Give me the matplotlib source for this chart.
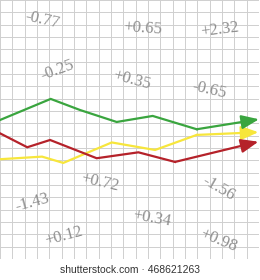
import matplotlib
matplotlib.use("Agg")
import matplotlib.pyplot as plt

# grid units (21 x 21 cells), y measured upward from grid bottom
green_x = [0, 4.11, 6.49, 9.46, 12.38, 15.95, 21.0]
green_y = [11.27, 12.98, 12.08, 11.11, 11.6, 10.52, 11.33]
red_x = [0, 2.21, 4.06, 7.84, 11.22, 14.19, 20.95]
red_y = [10.19, 9.06, 9.65, 8.17, 8.65, 7.87, 9.51]
yellow_x = [0, 3.41, 5.13, 9.06, 12.57, 15.95, 20.95]
yellow_y = [8.09, 8.30, 7.79, 9.45, 8.84, 10.06, 10.28]

labels = ["-0.77", "+0.65", "+2.32", "-0.25", "+0.35", "-0.65",
          "+0.72", "-1.56", "-1.43", "+0.12", "+0.34", "+0.98"]
label_x = [3.41, 11.6, 17.84, 4.62, 10.7, 16.95,
           8.11, 17.68, 2.6, 5.19, 12.33, 17.68]
label_y = [19.38, 18.73, 18.57, 15.33, 14.52, 13.71,
           6.2, 5.72, 4.54, 1.86, 3.32, 1.54]
label_rot = [-13, -4, 7, 20, -15, -13, -13, -30, 15, 15, -10, -22]

fig = plt.figure(figsize=(2.6, 2.8), dpi=100)
ax = fig.add_axes([0, 21 / 280, 259 / 260, 259 / 280])
ax.set_xlim(0, 21)
ax.set_ylim(0, 21)
ax.set_xticks(range(0, 22))
ax.set_yticks(range(0, 22))
ax.grid(True, color="#cfcfcf", linewidth=0.7)
ax.tick_params(length=0, labelbottom=False, labelleft=False)
for s in ax.spines.values():
    s.set_visible(False)
ax.set_axisbelow(True)

for t, x, y, r in zip(labels, label_x, label_y, label_rot):
    ax.text(x, y, t, rotation=r, ha="center", va="center",
            family="Liberation Serif", fontsize=12, color="#8e8e8e",
            rotation_mode="anchor")

series = [(yellow_x, yellow_y, "#f7e63c"),
          (red_x, red_y, "#b5222a"),
          (green_x, green_y, "#3aa53f")]
for xs, ys, c in series:
    ax.plot(xs[:-1], ys[:-1], color=c, lw=1.6, solid_joinstyle="miter")
    ax.annotate("", xy=(xs[-1], ys[-1]), xytext=(xs[-2], ys[-2]),
                arrowprops=dict(arrowstyle="-|>,head_length=1.05,head_width=0.42",
                                color=c, lw=1.6, shrinkA=0, shrinkB=0,
                                mutation_scale=10),
                annotation_clip=False)

fig.text(0.5, 10 / 280, "shutterstock.com \u00b7 468621263", ha="center", va="center",
         family="Liberation Sans", fontsize=7.5, color="#333333")

fig.savefig("out.png", dpi=100)
